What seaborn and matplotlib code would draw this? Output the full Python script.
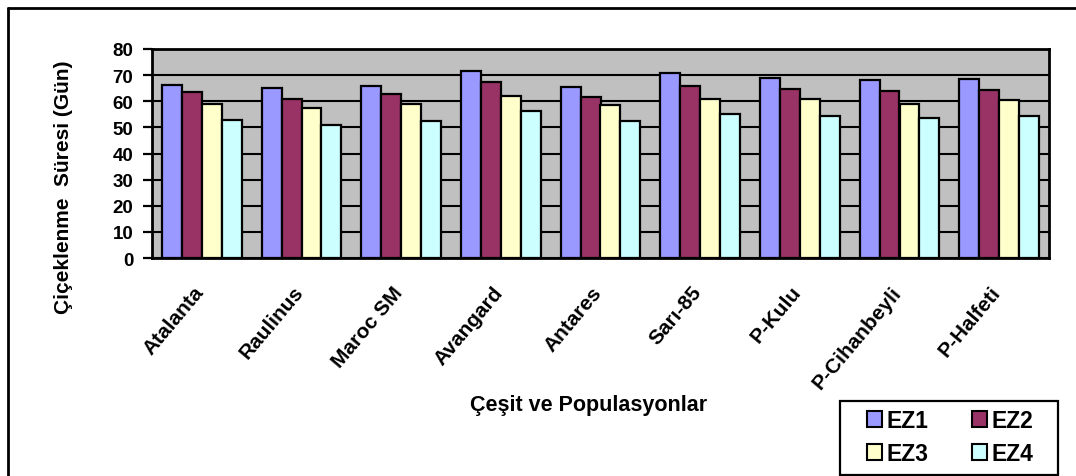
import matplotlib
matplotlib.use("Agg")
import matplotlib.pyplot as plt
from matplotlib.lines import Line2D
from matplotlib.patches import Patch, Rectangle
from matplotlib.transforms import ScaledTranslation
import seaborn as sns
import pandas as pd
import numpy as np

categories = ["Atalanta", "Raulinus", "Maroc SM", "Avangard", "Antares",
              "Sarı-85", "P-Kulu", "P-Cihanbeyli", "P-Halfeti"]
ez1 = [66.4, 65.1, 65.8, 71.4, 65.3, 70.8, 68.9, 68.1, 68.7]
ez2 = [63.6, 60.8, 62.6, 67.2, 61.8, 66.0, 64.6, 64.0, 64.4]
ez3 = [59.1, 57.5, 58.9, 62.2, 58.5, 60.9, 61.0, 59.1, 60.3]
ez4 = [52.9, 50.8, 52.5, 56.3, 52.5, 55.2, 54.5, 53.7, 54.3]
series_names = ["EZ1", "EZ2", "EZ3", "EZ4"]
y_ticks = [0, 10, 20, 30, 40, 50, 60, 70, 80]

colors = ["#9999FF", "#993366", "#FFFFCC", "#CCFFFF"]

rows = []
for name, vals in zip(series_names, [ez1, ez2, ez3, ez4]):
    for c, v in zip(categories, vals):
        rows.append({"Çeşit": c, "Süre": v, "Seri": name})
df = pd.DataFrame(rows)

sns.set_style("white")
plt.rcParams["font.family"] = ["Liberation Sans", "DejaVu Sans"]
plt.rcParams["font.weight"] = "bold"
for key in ["text.color", "axes.labelcolor", "xtick.color", "ytick.color"]:
    plt.rcParams[key] = "black"

W, H = 1076, 477
fig = plt.figure(figsize=(W / 100, H / 100), dpi=100)
ax = fig.add_axes([152 / W, 1 - 259 / H, 897 / W, 209 / H])
ax.set_facecolor("#C0C0C0")

sns.barplot(data=df, x="Çeşit", y="Süre", hue="Seri", order=categories,
            hue_order=series_names, palette=colors, width=0.8,
            edgecolor="black", linewidth=1.6, saturation=1, ax=ax,
            legend=False, errorbar=None)

ax.set_xlim(-0.5, len(categories) - 0.5)
ax.set_ylim(0, 80)
ax.set_yticks(y_ticks)
ax.set_yticklabels([str(t) for t in y_ticks], fontsize=13.5, fontweight="bold")
ax.yaxis.grid(True, color="black", linewidth=1.5)
ax.set_axisbelow(True)

ax.set_xticks(range(len(categories)))
ax.set_xticklabels(categories, rotation=50, ha="right", va="top",
                   rotation_mode="anchor", fontsize=15, fontweight="bold")
ax.tick_params(axis="x", which="major", length=0, pad=16)
# nudge the slanted category names a little to the left
shift = ScaledTranslation(-9 / 100, -2 / 100, fig.dpi_scale_trans)
for lbl in ax.get_xticklabels():
    lbl.set_transform(lbl.get_transform() + shift)
ax.set_xticks(np.arange(-0.5, len(categories), 1.0), minor=True)
ax.tick_params(axis="x", which="minor", length=6, width=1.6, color="black",
               direction="out")
ax.tick_params(axis="y", length=6.5, width=1.6, color="black", direction="out",
               left=True, pad=7)

for s in ax.spines.values():
    s.set_color("black")
    s.set_linewidth(2)

ax.set_xlabel("Çeşit ve Populasyonlar", fontsize=15.5, fontweight="bold")
ax.xaxis.set_label_coords(0.487, -0.65)
ax.set_ylabel("Çiçeklenme  Süresi (Gün)", fontsize=15, fontweight="bold")
ax.yaxis.set_label_coords(-0.088, 0.342)

# legend: two rows, filled row by row
order = [0, 2, 1, 3]
handles = [Patch(facecolor=colors[i], edgecolor="black", linewidth=1.5) for i in order]
labels = [series_names[i] for i in order]
leg = fig.legend(handles, labels, ncol=2, loc="center",
                 bbox_to_anchor=(950 / W, 1 - 438 / H),
                 prop={"size": 16.5, "weight": "bold"}, frameon=False,
                 handlelength=0.66, handleheight=0.66, handletextpad=0.2,
                 columnspacing=1.9, borderpad=0.0, labelspacing=0.45)
fig.add_artist(Rectangle((840 / W, 1 - 476 / H), 218 / W, 74 / H,
                         transform=fig.transFigure, facecolor="white",
                         edgecolor="black", linewidth=1.6, zorder=0))

# chart area frame
fig.add_artist(Line2D([8 / W, 8 / W], [0, 1 - 9 / H], transform=fig.transFigure,
                      color="black", linewidth=2))
fig.add_artist(Line2D([8 / W, 1], [1 - 9 / H, 1 - 9 / H], transform=fig.transFigure,
                      color="black", linewidth=2))

fig.savefig("out.png", dpi=100, facecolor="white")
